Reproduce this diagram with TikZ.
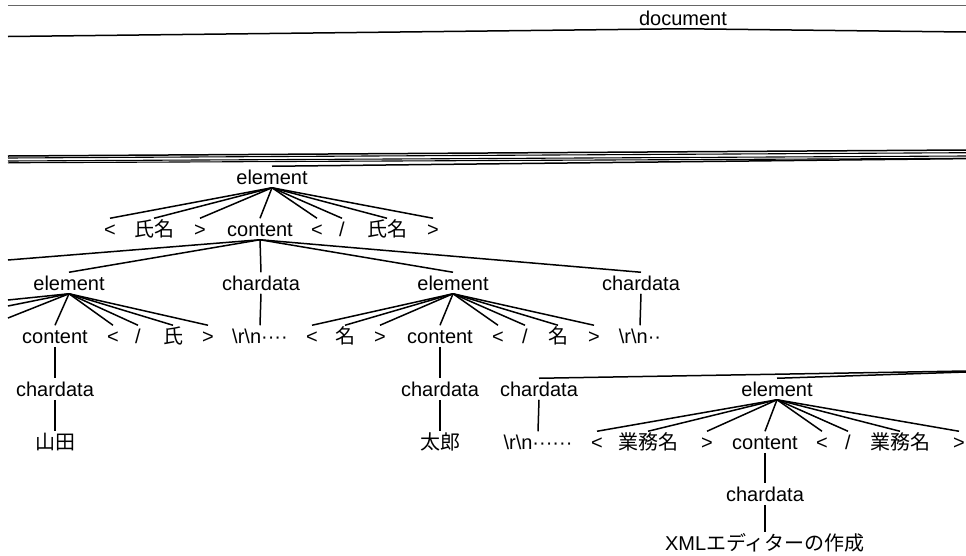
\documentclass[tikz,border=0pt]{standalone}
\usepackage{fontspec}
\setmainfont{Liberation Sans}
\newfontfamily\jp{Noto Sans CJK JP}
\begin{document}
\begin{tikzpicture}[x=1pt,y=-1pt,
  t/.style={inner xsep=0pt, inner ysep=3.5pt, outer sep=0pt, text height=14.5pt, text depth=0pt, font=\fontsize{20}{24}\selectfont},
  ln/.style={line width=1.5pt, black},
  frameline/.style={line width=1pt, black!60}]
\useasboundingbox (0,0) rectangle (966,555);
% top frame line
\coordinate (fl) at (8,5);
\coordinate (fr) at (966,5);
\draw[frameline] (fl) -- (fr);
% document
\node[t] (doc) at (683,18) {document};
\coordinate (dl) at (8,36.5);
\coordinate (dr) at (966,32);
\draw[ln] (doc.south) -- (dl);
\draw[ln] (doc.south) -- (dr);
% passing lines
\coordinate (pa1) at (8,156);   \coordinate (pa2) at (966,150);
\coordinate (pb1) at (8,158);   \coordinate (pb2) at (966,152.7);
\coordinate (pc1) at (8,161);   \coordinate (pc2) at (966,156);
\coordinate (pd1) at (8,162.8); \coordinate (pd2) at (966,158.3);
\draw[ln] (pa1) -- (pa2);
\draw[ln, line width=1.1pt] (pb1) -- (pb2);
\draw[ln, line width=1.1pt] (pc1) -- (pc2);
\draw[ln, line width=1.1pt] (pd1) -- (pd2);
% level 1
\node[t] (el1) at (272,177) {element};
\coordinate (el1p) at (966,158.6);
\draw[ln] (el1.north) -- (el1p);
% level 2
\node[t] (lt1) at (110,229) {<};
\node[t] (sm1) at (154,229) {\jp 氏名};
\node[t] (gt1) at (200,229) {>};
\node[t] (ct1) at (260,229) {content};
\node[t] (lt2) at (317,229) {<};
\node[t] (sl1) at (342,229) {/};
\node[t] (sm2) at (387,229) {\jp 氏名};
\node[t] (gt2) at (433,229) {>};
\foreach \c in {lt1,sm1,gt1,ct1,lt2,sl1,sm2,gt2} \draw[ln] (el1.south) -- (\c.north);
% level 3
\node[t] (el2) at (69,283) {element};
\node[t] (cd1) at (261,283) {chardata};
\node[t] (el3) at (453,283) {element};
\node[t] (cd2) at (641,283) {chardata};
\coordinate (ct1l) at (8,260);
\draw[ln] (ct1.south) -- (ct1l);
\foreach \c in {el2,cd1,el3,cd2} \draw[ln] (ct1.south) -- (\c.north);
% level 4
\node[t] (ct2) at (55,336) {content};
\node[t] (lt3) at (113,336) {<};
\node[t] (sl2) at (138,336) {/};
\node[t] (sh) at (173,336) {\jp 氏};
\node[t] (gt3) at (208,336) {>};
\node[t] (rn1) at (260,336) {\textbackslash r\textbackslash n····};
\node[t] (lt4) at (312,336) {<};
\node[t] (na1) at (345,336) {\jp 名};
\node[t] (gt4) at (380,336) {>};
\node[t] (ct3) at (440,336) {content};
\node[t] (lt5) at (498,336) {<};
\node[t] (sl3) at (525,336) {/};
\node[t] (na2) at (558,336) {\jp 名};
\node[t] (gt5) at (594,336) {>};
\node[t] (rn2) at (640,336) {\textbackslash r\textbackslash n··};
\coordinate (e2a) at (8,300);
\coordinate (e2b) at (8,306);
\coordinate (e2c) at (8,318);
\foreach \c in {e2a,e2b,e2c} \draw[ln] (el2.south) -- (\c);
\foreach \c in {ct2,lt3,sl2,sh,gt3} \draw[ln] (el2.south) -- (\c.north);
\draw[ln] (cd1.south) -- (rn1.north);
\foreach \c in {lt4,na1,gt4,ct3,lt5,sl3,na2,gt5} \draw[ln] (el3.south) -- (\c.north);
\draw[ln] (cd2.south) -- (rn2.north);
% level 5
\node[t] (cd3) at (55,389) {chardata};
\node[t] (cd4) at (440,389) {chardata};
\node[t] (cd5) at (539,389) {chardata};
\node[t] (el4) at (777,389) {element};
\draw[ln] (ct2.south) -- (cd3.north);
\draw[ln] (ct3.south) -- (cd4.north);
\coordinate (cd5p) at (966,371);
\coordinate (el4p) at (966,372);
\draw[ln] (cd5.north) -- (cd5p);
\draw[ln] (el4.north) -- (el4p);
% level 6
\node[t] (ym) at (55,442) {\jp 山田};
\node[t] (tr) at (440,442) {\jp 太郎};
\node[t] (rn3) at (538,442) {\textbackslash r\textbackslash n······};
\node[t] (lt6) at (597,442) {<};
\node[t] (gy1) at (648,442) {\jp 業務名};
\node[t] (gt6) at (707,442) {>};
\node[t] (ct4) at (765,442) {content};
\node[t] (lt7) at (822,442) {<};
\node[t] (sl4) at (848,442) {/};
\node[t] (gy2) at (900,442) {\jp 業務名};
\node[t] (gt7) at (959,442) {>};
\draw[ln] (cd3.south) -- (ym.north);
\draw[ln] (cd4.south) -- (tr.north);
\draw[ln] (cd5.south) -- (rn3.north);
\foreach \c in {lt6,gy1,gt6,ct4,lt7,sl4,gy2,gt7} \draw[ln] (el4.south) -- (\c.north);
% level 7, 8
\node[t] (cd6) at (765,494) {chardata};
\node[t] (xml) at (765,543) {XML{\jp エディターの作成}};
\draw[ln] (ct4.south) -- (cd6.north);
\draw[ln] (cd6.south) -- (xml.north);
\end{tikzpicture}
\end{document}
